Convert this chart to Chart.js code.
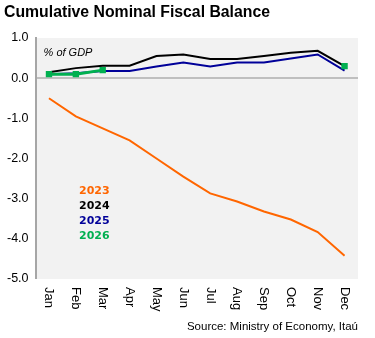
<!DOCTYPE html>
<html>
<head>
<meta charset="utf-8">
<script src="https://cdn.jsdelivr.net/npm/chart.js@4/dist/chart.umd.min.js"></script>
<style>
  html, body { margin: 0; padding: 0; background: #ffffff; }
  #wrap { position: relative; width: 375px; height: 338px; }
</style>
</head>
<body>
<div id="wrap"><canvas id="c" width="375" height="338"></canvas></div>
<script>
// Months on the x axis
const months = ['Jan', 'Feb', 'Mar', 'Apr', 'May', 'Jun', 'Jul', 'Aug', 'Sep', 'Oct', 'Nov', 'Dec'];

// Cumulative nominal fiscal balance, % of GDP
const y2023 = [-0.50, -0.95, -1.25, -1.55, -2.00, -2.45, -2.87, -3.07, -3.32, -3.52, -3.83, -4.42];
const y2024 = [0.15, 0.25, 0.31, 0.31, 0.55, 0.59, 0.48, 0.48, 0.55, 0.63, 0.68, 0.30];
const y2025 = [0.10, 0.12, 0.18, 0.18, 0.29, 0.39, 0.29, 0.39, 0.39, 0.49, 0.59, 0.19];
const y2026 = [0.10, 0.10, 0.20, null, null, null, null, null, null, null, null, 0.30];

// y axis ticks
const yTicks = [1.0, 0.0, -1.0, -2.0, -3.0, -4.0, -5.0];

const seriesNames = ['2023', '2024', '2025', '2026'];
const seriesColors = ['#ff6600', '#000000', '#000099', '#00b050'];

const decor = {
  id: 'decor',
  beforeDraw(chart) {
    const { ctx, chartArea: a } = chart;
    ctx.save();
    ctx.fillStyle = '#f2f2f2';
    ctx.fillRect(a.left, a.top, a.right - a.left, a.bottom - a.top);
    ctx.restore();
  },
  afterDraw(chart) {
    const { ctx, chartArea: a } = chart;
    const xs = chart.scales.x;
    ctx.save();
    // title
    ctx.fillStyle = '#000';
    ctx.font = 'bold 15.8px "Liberation Sans", Arial, sans-serif';
    ctx.textBaseline = 'middle';
    ctx.textAlign = 'left';
    ctx.fillText('Cumulative Nominal Fiscal Balance', 4, 13);
    // unit note
    ctx.font = 'italic 11px "Liberation Sans", Arial, sans-serif';
    ctx.fillText('% of GDP', a.left + 8, 53);
    // series key
    ctx.font = 'bold 11px "DejaVu Sans", sans-serif';
    seriesNames.forEach((n, i) => {
      ctx.fillStyle = seriesColors[i];
      ctx.fillText(n, 79, 191 + i * 15);
    });
    // month labels, rotated to read downward
    ctx.fillStyle = '#000';
    ctx.font = '13px "Liberation Sans", Arial, sans-serif';
    months.forEach((m, i) => {
      const x = xs.getPixelForValue(i);
      ctx.save();
      ctx.translate(x, a.bottom + 8);
      ctx.rotate(Math.PI / 2);
      ctx.textAlign = 'left';
      ctx.textBaseline = 'middle';
      ctx.fillText(m, 0, 0);
      ctx.restore();
    });
    // source
    ctx.font = '11.5px "Liberation Sans", Arial, sans-serif';
    ctx.textAlign = 'right';
    ctx.fillText('Source: Ministry of Economy, Itaú', 358, 327);
    ctx.restore();
  }
};

const data = {
  labels: months,
  datasets: [
    { label: '2023', data: y2023, borderColor: seriesColors[0], borderWidth: 2, pointRadius: 0, order: 3 },
    { label: '2024', data: y2024, borderColor: seriesColors[1], borderWidth: 2, pointRadius: 0, order: 2 },
    { label: '2025', data: y2025, borderColor: seriesColors[2], borderWidth: 2, pointRadius: 0, order: 1 },
    { label: '2026', data: y2026, borderColor: seriesColors[3], backgroundColor: seriesColors[3], borderWidth: 3,
      pointStyle: 'rect', pointRadius: 4.5, pointBorderWidth: 0, spanGaps: false, order: 0 }
  ]
};

new Chart(document.getElementById('c'), {
  type: 'line',
  data,
  plugins: [decor],
  options: {
    responsive: false,
    animation: false,
    events: [],
    layout: { padding: { top: 38, right: 17, bottom: 51, left: 0 } },
    plugins: { legend: { display: false }, tooltip: { enabled: false }, title: { display: false } },
    elements: { line: { tension: 0 } },
    scales: {
      x: {
        offset: true,
        grid: { display: false },
        border: { display: false },
        ticks: { display: false }
      },
      y: {
        min: -5, max: 1,
        afterBuildTicks(scale) { scale.ticks = yTicks.map(v => ({ value: v })); },
        ticks: {
          color: '#000',
          font: { family: '"Liberation Sans", Arial, sans-serif', size: 12.5 },
          padding: 7,
          callback: v => Number(v).toFixed(1)
        },
        grid: {
          drawTicks: false,
          color: c => (c.tick && c.tick.value === 0 ? '#bfbfbf' : 'rgba(0,0,0,0)'),
          lineWidth: c => (c.tick && c.tick.value === 0 ? 2 : 0)
        },
        border: { display: true, color: '#a6a6a6', width: 2 }
      }
    }
  }
});
</script>
</body>
</html>
